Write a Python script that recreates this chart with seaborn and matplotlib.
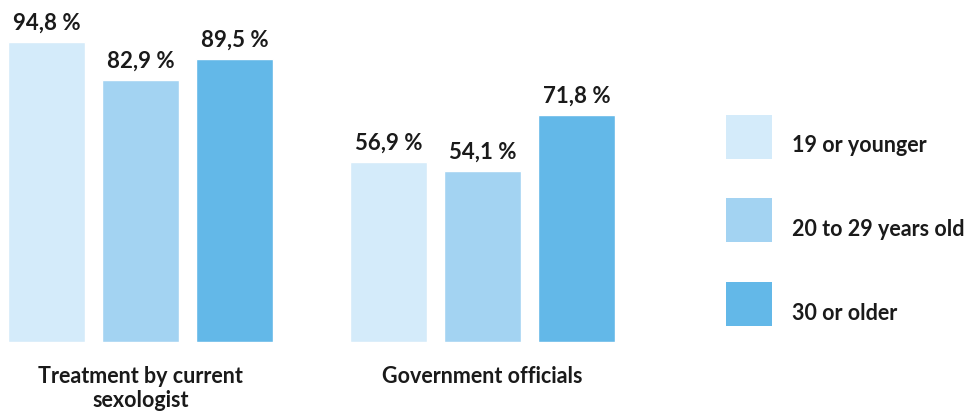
import matplotlib
matplotlib.use("Agg")
import matplotlib.pyplot as plt
from matplotlib.patches import Rectangle
import seaborn as sns
import pandas as pd

categories = ["Treatment by current\nsexologist", "Government officials"]
age_groups = ["19 or younger", "20 to 29 years old", "30 or older"]
values_19_or_younger = [94.8, 56.9]
values_20_to_29 = [82.9, 54.1]
values_30_or_older = [89.5, 71.8]

colors = ["#D4EBFA", "#A3D3F2", "#63B8E8"]

rows = []
for group, vals in zip(age_groups, [values_19_or_younger, values_20_to_29, values_30_or_older]):
    for cat, v in zip(categories, vals):
        rows.append({"category": cat, "age": group, "value": v})
df = pd.DataFrame(rows)

sns.set_theme(style="white")
plt.rcParams["font.family"] = ["Lato", "DejaVu Sans"]

W, H = 974, 412
fig = plt.figure(figsize=(W / 100, H / 100), dpi=100)
base_px = 342
px_per_unit = 3.165
ax_top_px = base_px - 100 * px_per_unit
ax = fig.add_axes([0, (H - base_px) / H, 640 / W, (base_px - ax_top_px) / H])

sns.barplot(data=df, x="category", y="value", hue="age", hue_order=age_groups,
            order=categories, palette=colors, width=282 / 342, gap=17 / 94,
            saturation=1, legend=False, ax=ax)

ax.set_ylim(0, 100)
ax.set_xlim(-140.5 / 342, (640 - 140.5) / 342)
ax.set_axis_off()

text_color = "#1a1a1a"

for container in ax.containers:
    for bar in container:
        h = bar.get_height()
        ax.annotate(f"{h:.1f}".replace(".", ",") + " %",
                    (bar.get_x() + bar.get_width() / 2, h),
                    xytext=(0, 6), textcoords="offset points",
                    ha="center", va="bottom", fontsize=16, fontweight="bold",
                    color=text_color)

for i, cat in enumerate(categories):
    ax.annotate(cat, (i, 0), xytext=(0, -17), textcoords="offset points",
                ha="center", va="top", fontsize=15.5, fontweight="bold",
                color=text_color, linespacing=1.2)

# legend drawn as swatches with labels
legend_tops = [115, 198, 282]
for top, color, label in zip(legend_tops, colors, age_groups):
    fig.add_artist(Rectangle((726 / W, 1 - (top + 44) / H), 46 / W, 44 / H,
                             transform=fig.transFigure, facecolor=color,
                             edgecolor="none"))
    fig.text(792 / W, 1 - (top + 37.5) / H, label, ha="left", va="baseline",
             fontsize=15.5, fontweight="bold", color=text_color)

fig.savefig("out.png", dpi=100)
